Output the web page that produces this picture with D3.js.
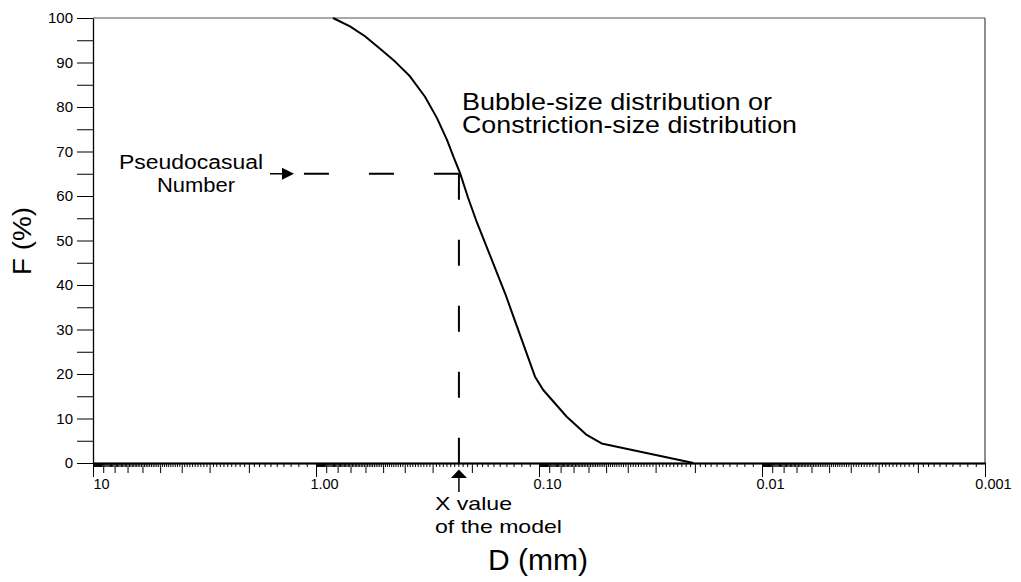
<!DOCTYPE html>
<html>
<head>
<meta charset="utf-8">
<script src="https://cdn.jsdelivr.net/npm/d3@7"></script>
<style>
  html, body { margin: 0; padding: 0; background: #fff; }
  svg { display: block; font-family: "Liberation Sans", Arial, Helvetica, sans-serif; }
</style>
</head>
<body>
<svg id="chart" width="1021" height="582"></svg>
<script>
// ---- data ----
const diameterMm = [0.839, 0.704, 0.603, 0.516, 0.442, 0.379, 0.3245, 0.2867, 0.2586, 0.2405, 0.2261, 0.208, 0.1916, 0.1421, 0.1042, 0.0957, 0.0751, 0.0611, 0.0524, 0.0203];
const cumulativePct = [100, 98.1, 95.9, 93.1, 90.2, 86.9, 82.3, 77.5, 72.6, 68.5, 65.2, 59.6, 54.6, 38.2, 19.4, 16.4, 10.4, 6.3, 4.4, 0];
const decadeTicks = [10, 1, 0.1, 0.01, 0.001];
const decadeLabels = ["10", "1.00", "0.10", "0.01", "0.001"];
const yTickValues = [0, 5, 10, 15, 20, 25, 30, 35, 40, 45, 50, 55, 60, 65, 70, 75, 80, 85, 90, 95, 100];
const yTickLabels = ["0", "", "10", "", "20", "", "30", "", "40", "", "50", "", "60", "", "70", "", "80", "", "90", "", "100"];
const pseudoF = 65;      // pseudocasual number (%)
const modelD = 0.2286;   // x value of the model (mm)

// ---- layout ----
const svg = d3.select("#chart");
const x = d3.scaleLog().domain([10, 0.001]).range([93, 985]);
const y = d3.scaleLinear().domain([0, 100]).range([463, 18]);

// minor ticks: every 1/10 of the lower decade bound; integer ticks: multiples of the lower bound
const minorTicks = [], intTicks = [];
for (let k = 0; k < decadeTicks.length - 1; k++) {
  const lo = decadeTicks[k + 1];
  for (let i = 11; i < 100; i++) {
    if (i % 10 === 0) intTicks.push(lo * i / 10);
    else minorTicks.push(lo * i / 10);
  }
}

// frame
svg.append("line").attr("x1", x.range()[0]).attr("x2", x.range()[1]).attr("y1", y(100)).attr("y2", y(100))
  .attr("stroke", "#555").attr("stroke-width", 1.2);
svg.append("line").attr("x1", x.range()[1]).attr("x2", x.range()[1]).attr("y1", y(100)).attr("y2", y(0))
  .attr("stroke", "#444").attr("stroke-width", 1.2);

function styleAxis(g) {
  g.select(".domain").attr("stroke", "#000").attr("stroke-width", 1.3);
  g.selectAll(".tick line").attr("stroke", "#000").attr("stroke-width", 1);
}
// x axis (three tick layers)
svg.append("g").attr("transform", `translate(0,${y(0)})`)
  .call(d3.axisBottom(x).tickValues(minorTicks).tickSize(4).tickSizeOuter(0).tickFormat(""))
  .call(styleAxis);
svg.append("g").attr("transform", `translate(0,${y(0)})`)
  .call(d3.axisBottom(x).tickValues(intTicks).tickSize(10).tickSizeOuter(0).tickFormat(""))
  .call(styleAxis);
const xMajor = svg.append("g").attr("transform", `translate(0,${y(0)})`)
  .call(d3.axisBottom(x).tickValues(decadeTicks).tickSize(14).tickSizeOuter(0)
    .tickFormat((d, i) => decadeLabels[i]))
  .call(styleAxis);
xMajor.attr("font-size", 14.5).attr("font-family", "'Liberation Sans', Arial, sans-serif");
xMajor.selectAll(".tick text")
  .attr("fill", "#000").attr("y", 16).attr("dy", "0.71em").attr("dx", 8);

// y axis
const yAx = svg.append("g").attr("transform", `translate(${x.range()[0]},0)`)
  .call(d3.axisLeft(y).tickValues(yTickValues).tickSize(16).tickPadding(4).tickSizeOuter(0)
    .tickFormat((d, i) => yTickLabels[i]))
  .call(styleAxis);
yAx.attr("font-size", 15).attr("font-family", "'Liberation Sans', Arial, sans-serif");
yAx.selectAll(".tick text").attr("fill", "#000");

// curve
const pts = diameterMm.map((d, i) => [d, cumulativePct[i]]);
svg.append("path").datum(pts)
  .attr("fill", "none").attr("stroke", "#000").attr("stroke-width", 2).attr("stroke-linejoin", "round")
  .attr("d", d3.line().x(d => x(d[0])).y(d => y(d[1])));

// dashed guide lines
svg.append("line")
  .attr("x1", x(modelD)).attr("y1", y(pseudoF)).attr("x2", 303).attr("y2", y(pseudoF))
  .attr("stroke", "#000").attr("stroke-width", 2).attr("stroke-dasharray", "25,40");
svg.append("line")
  .attr("x1", x(modelD)).attr("y1", y(pseudoF)).attr("x2", x(modelD)).attr("y2", y(0))
  .attr("stroke", "#000").attr("stroke-width", 2).attr("stroke-dasharray", "26,40");

// left arrow (towards dashed line)
const ay = y(pseudoF);
svg.append("line").attr("x1", 270).attr("x2", 285).attr("y1", ay).attr("y2", ay)
  .attr("stroke", "#000").attr("stroke-width", 1.5);
svg.append("path").attr("d", `M282,${ay - 6}L294,${ay}L282,${ay + 6}Z`).attr("fill", "#000");

// bottom arrow (pointing up to x value)
const ax = x(modelD);
svg.append("line").attr("x1", ax).attr("x2", ax).attr("y1", 477).attr("y2", 492)
  .attr("stroke", "#000").attr("stroke-width", 1.5);
svg.append("path").attr("d", `M${ax - 8},478L${ax},469.5L${ax + 8},478Z`).attr("fill", "#000");

// annotation texts
function txt(str, px, py, size, len, anchor) {
  const t = svg.append("text").attr("x", px).attr("y", py).attr("font-size", size)
    .attr("fill", "#000").attr("text-anchor", anchor || "start").text(str);
  if (len) t.attr("textLength", len).attr("lengthAdjust", "spacingAndGlyphs");
  return t;
}
txt("Bubble-size distribution or", 462, 110, 24, 310);
txt("Constriction-size distribution", 462, 133, 24, 335);
txt("Pseudocasual", 191, 169, 19.5, 144, "middle");
txt("Number", 196, 192, 19.5, 78, "middle");
txt("X value", 435, 510, 18.5, 77);
txt("of the model", 435, 533, 18.5, 127);
txt("D (mm)", 488, 570, 30, 100);
svg.append("text").attr("transform", "translate(31,241) rotate(-90)")
  .attr("text-anchor", "middle").attr("font-size", 25).attr("fill", "#000")
  .attr("textLength", 68).attr("lengthAdjust", "spacingAndGlyphs").text("F (%)");
</script>
</body>
</html>
